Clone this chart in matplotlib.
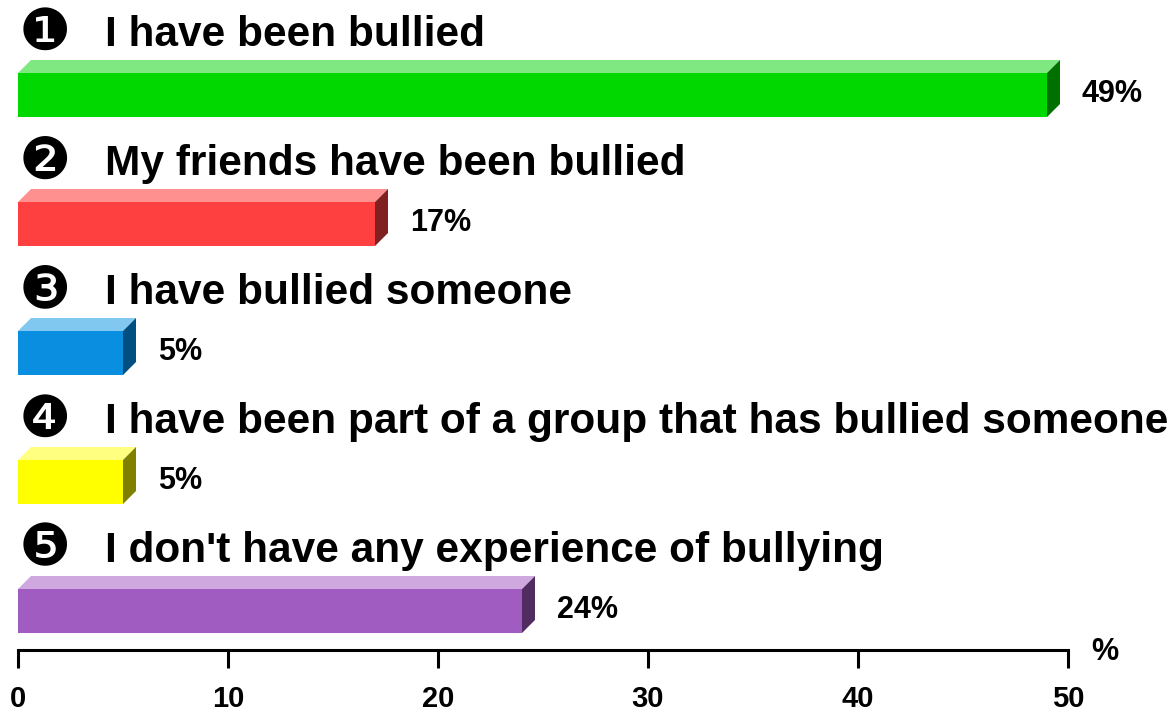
import matplotlib
matplotlib.use('Agg')
import matplotlib.pyplot as plt
from matplotlib.patches import Polygon

labels = ["I have been bullied",
          "My friends have been bullied",
          "I have bullied someone",
          "I have been part of a group that has bullied someone",
          "I don't have any experience of bullying"]
values = [49, 17, 5, 5, 24]
markers = ["\u2776", "\u2777", "\u2778", "\u2779", "\u277a"]
front = ["#00d800", "#ff4040", "#0a8fe0", "#ffff00", "#a05cc0"]
top = ["#80e880", "#ff9090", "#80c8f0", "#ffff80", "#d0a8e0"]
side = ["#007000", "#802020", "#004f80", "#808000", "#502c60"]
ticks = [0, 10, 20, 30, 40, 50]

W, H = 1176, 713
fig = plt.figure(figsize=(W / 100, H / 100), dpi=100)

# main axes: x in %, y in rows (1 row = 129 px)
ax = fig.add_axes([0, 0, 1, 1])
pxx = 21.0          # px per percent
pxy = 129.0         # px per row
ax.set_xlim(-18 / pxx, (W - 18) / pxx)
ax.set_ylim((H - 95) / pxy, -95 / pxy)
ax.axis('off')

bh = 44 / pxy       # front face height
dx = 13 / pxx       # depth
dy = 13 / pxy

font = 'Liberation Sans'
for i, (lab, v) in enumerate(zip(labels, values)):
    y0 = i - bh / 2
    y1 = i + bh / 2
    ax.add_patch(Polygon([(0, y0), (v, y0), (v, y1), (0, y1)], closed=True,
                         fc=front[i], ec='none'))
    ax.add_patch(Polygon([(0, y0), (dx, y0 - dy), (v + dx, y0 - dy), (v, y0)],
                         closed=True, fc=top[i], ec='none'))
    ax.add_patch(Polygon([(v, y0), (v + dx, y0 - dy), (v + dx, y1 - dy), (v, y1)],
                         closed=True, fc=side[i], ec='none'))
    ax.text(v + dx + 22 / pxx, i - 1 / pxy, f"{v}%", fontsize=22, fontweight='bold',
            family=font, ha='left', va='center')
    ax.text(27 / pxx, i - 62 / pxy, markers[i], fontsize=42, family='DejaVu Sans',
            ha='center', va='center')
    ax.text(87 / pxx, i - 49 / pxy, lab, fontsize=30.5, fontweight='bold',
            family=font, ha='left', va='baseline')

# x axis
ax2 = fig.add_axes([18 / W, 63 / H, 1050 / W, 0.05])
ax2.patch.set_visible(False)
ax2.set_xlim(0, 50)
for s in ['top', 'left', 'right']:
    ax2.spines[s].set_visible(False)
ax2.spines['bottom'].set_linewidth(2.2)
ax2.set_yticks([])
ax2.set_xticks(ticks)
ax2.tick_params(axis='x', direction='out', length=13, width=2.2, pad=12)
for t in ax2.get_xticklabels():
    t.set_fontsize(21)
    t.set_fontweight('bold')
    t.set_family(font)
ax2.annotate("%", xy=(50 + 37 / pxx, 0), xycoords=('data', 'axes fraction'),
             xytext=(0, -2), textcoords='offset pixels', fontsize=22,
             fontweight='bold', family=font, ha='center', va='center')

fig.savefig('out.png', dpi=100)
